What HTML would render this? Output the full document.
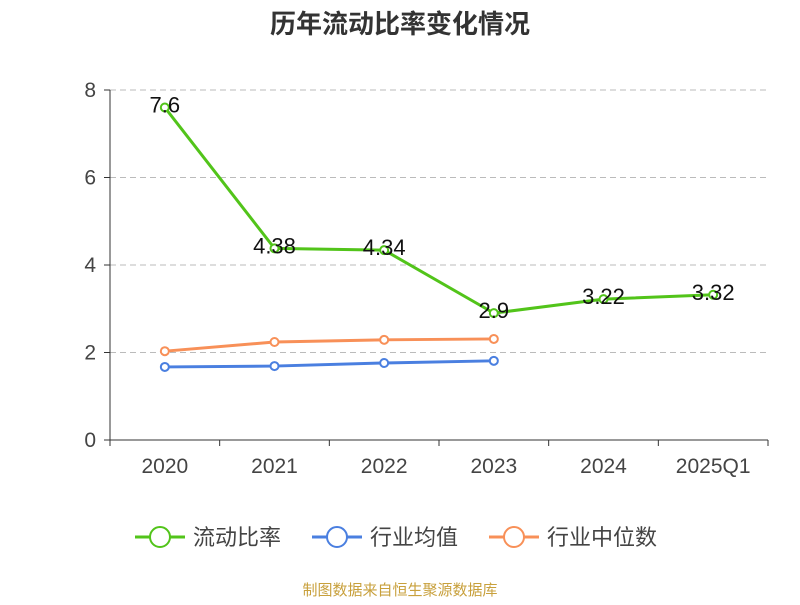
<!DOCTYPE html>
<html><head><meta charset="utf-8"><style>
body{margin:0;background:#fff;font-family:"Liberation Sans","Noto Sans CJK SC",sans-serif;}
</style></head><body>
<svg id="c" width="800" height="600" xmlns="http://www.w3.org/2000/svg">
<text x="400" y="33" text-anchor="middle" font-size="26" font-weight="bold" fill="#333" font-family="Liberation Sans, Noto Sans CJK SC, sans-serif">历年流动比率变化情况</text>
<g id="grid"></g><g id="axes"></g><g id="series"></g>
<g id="legend"></g>
<text x="400" y="595" text-anchor="middle" font-size="15" fill="#c8a03c" font-family="Liberation Sans, Noto Sans CJK SC, sans-serif">制图数据来自恒生聚源数据库</text>
</svg>
<script>
const categories=["2020","2021","2022","2023","2024","2025Q1"];
const ratio=[7.6,4.38,4.34,2.9,3.22,3.32];
const industryAvg=[1.67,1.69,1.76,1.81];
const industryMedian=[2.03,2.24,2.29,2.31];
const yTicks=[0,2,4,6,8];
const NS="http://www.w3.org/2000/svg";
const x0=110,x1=768,y0=440,y1=90;
const band=(x1-x0)/categories.length;
const xs=i=>x0+band*(i+0.5);
const ys=v=>y0-(v/8)*(y0-y1);
function mk(tag,attrs,parent){const e=document.createElementNS(NS,tag);for(const k in attrs)e.setAttribute(k,attrs[k]);document.getElementById(parent).appendChild(e);return e;}
yTicks.forEach(t=>{
 if(t>0){const l=mk("line",{x1:x0,x2:x1,y1:ys(t),y2:ys(t),stroke:"#bbb","stroke-dasharray":"6,4"},"grid");
 
 }
 const tx=mk("text",{x:x0-14,y:ys(t)+7,"text-anchor":"end","font-size":"21",fill:"#444"},"axes");
 tx.textContent=t;
 
 
 const tk=mk("line",{x1:x0-6,x2:x0,y1:ys(t),y2:ys(t),stroke:"#333"},"axes");
 
 
});
const ya=mk("line",{x1:x0,x2:x0,y1:y1,y2:y0,stroke:"#333"},"axes");


const xa=mk("line",{x1:x0,x2:x1,y1:y0,y2:y0,stroke:"#333"},"axes");


for(let i=0;i<=categories.length;i++){const t=mk("line",{x1:x0+band*i,x2:x0+band*i,y1:y0,y2:y0+6,stroke:"#333"},"axes");
 
 }
categories.forEach((c,i)=>{const t=mk("text",{x:xs(i),y:y0+33,"text-anchor":"middle","font-size":"21",fill:"#444"},"axes");
 t.textContent=c;
 
 });
function series(data,color,name,labels){
 const p=mk("polyline",{points:data.map((v,i)=>xs(i)+","+ys(v)).join(" "),fill:"none",stroke:color,"stroke-width":"3"},"series");
 
 
 data.forEach((v,i)=>{const c=mk("circle",{cx:xs(i),cy:ys(v),r:4,fill:"#fff",stroke:color,"stroke-width":"2"},"series");
  
  
  if(labels){const t=mk("text",{x:xs(i),y:ys(v)+5,"text-anchor":"middle","font-size":"22",fill:"#111"},"series");
   t.textContent=v;
   
   }
 });
}
series(industryMedian,"#f89058","industry-median",false);
series(industryAvg,"#4a7fe0","industry-average",false);
series(ratio,"#52c41a","current-ratio",true);
const leg=[["流动比率","#52c41a",135],["行业均值","#4a7fe0",312],["行业中位数","#f89058",489]];
leg.forEach(([n,c,x])=>{
 const g=mk("g",{},"legend");
 
 
 const l=document.createElementNS(NS,"line");l.setAttribute("x1",x);l.setAttribute("x2",x+50);l.setAttribute("y1",537);l.setAttribute("y2",537);l.setAttribute("stroke",c);l.setAttribute("stroke-width","3");g.appendChild(l);
 const ci=document.createElementNS(NS,"circle");ci.setAttribute("cx",x+25);ci.setAttribute("cy",537);ci.setAttribute("r",10);ci.setAttribute("fill","#fff");ci.setAttribute("stroke",c);ci.setAttribute("stroke-width","2");g.appendChild(ci);
 const t=document.createElementNS(NS,"text");t.setAttribute("x",x+58);t.setAttribute("y",545);t.setAttribute("font-size","22");t.setAttribute("fill","#444");t.textContent=n;g.appendChild(t);
});
</script>
</body></html>
